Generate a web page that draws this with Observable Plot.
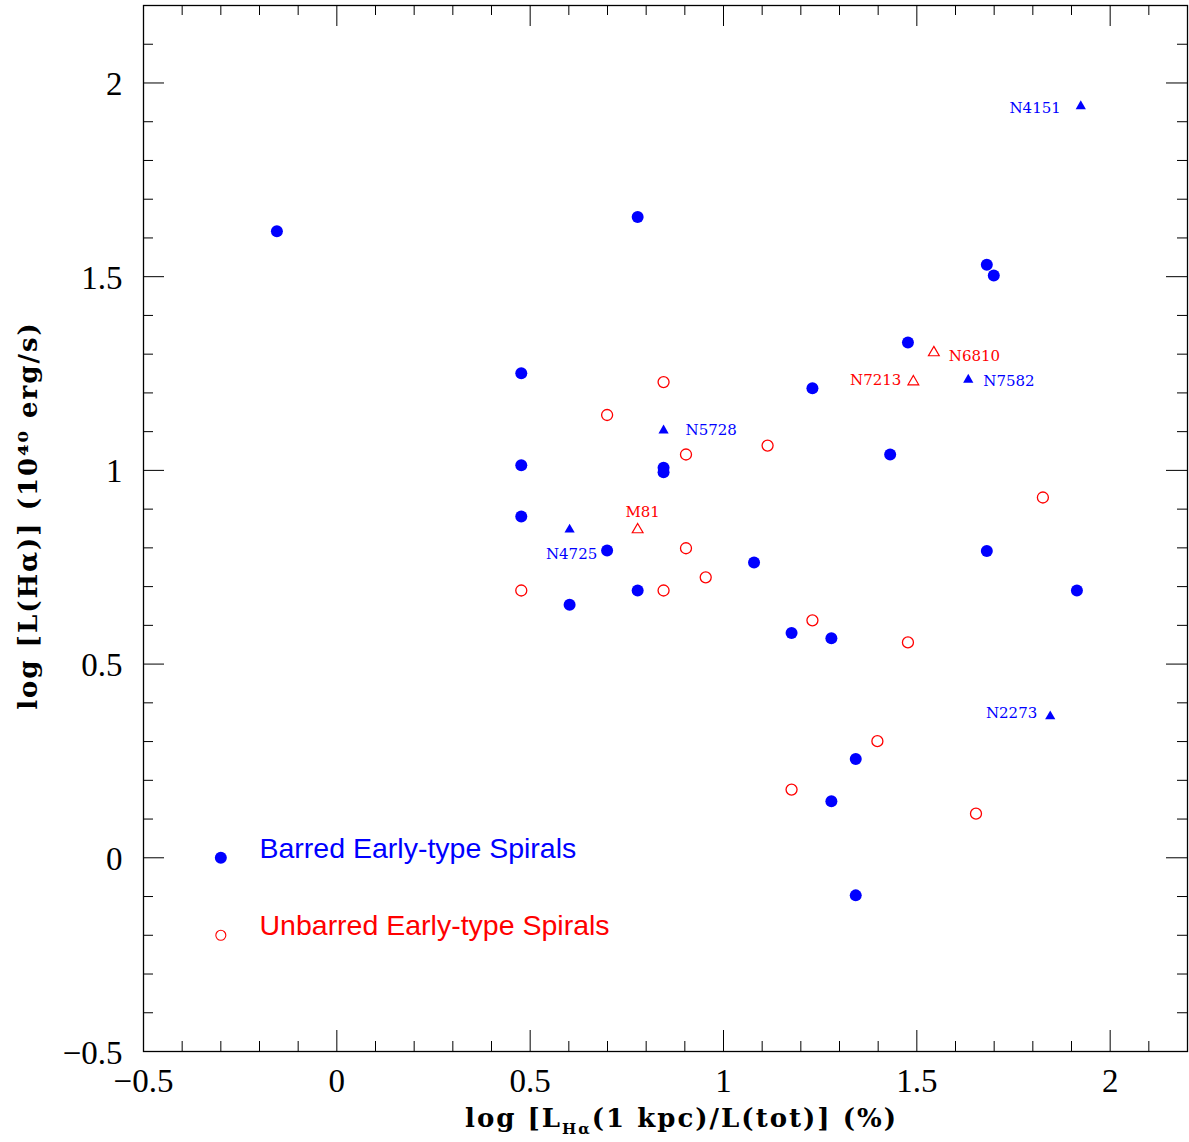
<!DOCTYPE html>
<html>
<head>
<meta charset="utf-8">
<script src="https://cdn.jsdelivr.net/npm/d3@7"></script>
<script src="https://cdn.jsdelivr.net/npm/@observablehq/plot@0.6"></script>
<style>
  body { margin: 0; background: #fff; }
  #chart svg { display: block; }
</style>
</head>
<body>
<div id="chart"></div>
<script>
// ---------- data ----------
const barredX = [-0.155, 0.778, 1.681, 1.699, 1.477, 0.477, 1.230, 0.477, 0.845, 0.845, 1.431, 0.477, 0.699, 1.681, 0.602, 0.778, 1.079, 1.176, 1.279, 1.914, 1.342, 1.279, 1.342];
const barredY = [1.617, 1.654, 1.531, 1.503, 1.330, 1.251, 1.212, 1.013, 1.007, 0.995, 1.041, 0.881, 0.793, 0.792, 0.653, 0.690, 0.762, 0.580, 0.567, 0.690, 0.255, 0.146, -0.097];

const unbarredX = [0.477, 0.699, 0.845, 0.903, 1.114, 0.903, 0.845, 0.954, 1.230, 1.477, 1.826, 1.398, 1.176, 1.653];
const unbarredY = [0.690, 1.143, 1.228, 1.041, 1.064, 0.799, 0.690, 0.724, 0.613, 0.556, 0.930, 0.301, 0.176, 0.114];

const agnNames  = ["N4151", "N7582", "N5728", "N4725", "N2273", "N6810", "N7213", "M81"];
const agnX      = [1.924, 1.633, 0.845, 0.602, 1.845, 1.544, 1.491, 0.778];
const agnY      = [1.940, 1.234, 1.103, 0.847, 0.365, 1.304, 1.229, 0.847];
const agnBarred = [true, true, true, true, true, false, false, false];

const legendLabels = ["Barred Early-type Spirals", "Unbarred Early-type Spirals"];

const xMajorTicks = [-0.5, 0, 0.5, 1, 1.5, 2];
const yMajorTicks = [-0.5, 0, 0.5, 1, 1.5, 2];
const xTitle = "log [LHα(1 kpc)/L(tot)] (%)";
const yTitle = "log [L(Hα)] (10⁴⁰ erg/s)";

// ---------- layout / style ----------
const W = 1189, H = 1142;
const mL = 143, mR = 2, mT = 5, mB = 91;
const innerW = W - mL - mR, innerH = H - mT - mB;
const BLUE = "#0000ff", RED = "#ff0000";

const minor = d3.range(-4, 22).filter(i => i % 5 !== 0).map(i => i / 10);
const fmt = d3.format("~g");

const barred = barredX.map((x, i) => ({x, y: barredY[i]}));
const unbarred = unbarredX.map((x, i) => ({x, y: unbarredY[i]}));
const agn = agnNames.map((name, i) => ({name, x: agnX[i], y: agnY[i], barred: agnBarred[i]}));

// label placement relative to its triangle (pixels)
const labelPlacement = {
  N4151: {anchor: "end",    dx: -20, dy: 2},
  N7582: {anchor: "start",  dx: 15,  dy: 1},
  N5728: {anchor: "start",  dx: 22,  dy: 0},
  N4725: {anchor: "middle", dx: 2,   dy: 25},
  N2273: {anchor: "end",    dx: -13, dy: -3},
  N6810: {anchor: "start",  dx: 15,  dy: 4},
  N7213: {anchor: "end",    dx: -12, dy: -1},
  M81:   {anchor: "middle", dx: 5,   dy: -17}
};

const tickFont = "Liberation Serif, Times New Roman, serif";
const titleFont = "DejaVu Serif, serif";
const labelFont = "DejaVu Serif, serif";

const plot = Plot.plot({
  width: W, height: H,
  marginLeft: mL, marginRight: mR, marginTop: mT, marginBottom: mB,
  x: {domain: [-0.5, 2.2]},
  y: {domain: [-0.5, 2.2]},
  style: {background: "#fff", color: "#000"},
  marks: [
    Plot.frame({stroke: "#000", strokeWidth: 1.3}),
    // major ticks (inward, all sides)
    Plot.tickX(xMajorTicks, {x: d => d, insetTop: innerH - 21, stroke: "#000"}),
    Plot.tickX(xMajorTicks, {x: d => d, insetBottom: innerH - 21, stroke: "#000"}),
    Plot.tickY(yMajorTicks, {y: d => d, insetRight: innerW - 21, stroke: "#000"}),
    Plot.tickY(yMajorTicks, {y: d => d, insetLeft: innerW - 21, stroke: "#000"}),
    // minor ticks
    Plot.tickX(minor, {x: d => d, insetTop: innerH - 10, stroke: "#000"}),
    Plot.tickX(minor, {x: d => d, insetBottom: innerH - 10, stroke: "#000"}),
    Plot.tickY(minor, {y: d => d, insetRight: innerW - 10, stroke: "#000"}),
    Plot.tickY(minor, {y: d => d, insetLeft: innerW - 10, stroke: "#000"}),
    // tick labels
    Plot.axisX(xMajorTicks, {tickSize: 0, tickPadding: 17, label: null, tickFormat: fmt, fontSize: 33, fontFamily: tickFont}),
    Plot.axisY(yMajorTicks, {tickSize: 0, tickPadding: 21, label: null, tickFormat: fmt, fontSize: 33, fontFamily: tickFont, dy: 1.5}),
    // axis titles
    Plot.text([xTitle], {text: d => d, frameAnchor: "bottom", textAnchor: "middle", lineAnchor: "middle", dx: 16, dy: 67,
      fontSize: 26, fontWeight: "bold", fontFamily: titleFont, fill: "#000"}),
    Plot.text([yTitle], {text: d => d, frameAnchor: "left", textAnchor: "middle", lineAnchor: "middle", rotate: -90, dx: -115, dy: -13,
      fontSize: 26, fontWeight: "bold", fontFamily: titleFont, fill: "#000"}),
    // data
    Plot.dot(unbarred, {x: "x", y: "y", r: 5.5, stroke: RED, strokeWidth: 1.3, fill: "none"}),
    Plot.dot(barred, {x: "x", y: "y", r: 6, fill: BLUE, stroke: "none"}),
    Plot.dot(agn.filter(d => d.barred), {x: "x", y: "y", symbol: "triangle", r: 3.8, fill: BLUE, stroke: "none"}),
    Plot.dot(agn.filter(d => !d.barred), {x: "x", y: "y", symbol: "triangle", r: 4, fill: "none", stroke: RED, strokeWidth: 1.2}),
    ...agn.map(d => {
      const p = labelPlacement[d.name];
      return Plot.text([d], {x: "x", y: "y", text: "name", textAnchor: p.anchor, dx: p.dx, dy: p.dy,
        fontSize: 15, fontFamily: labelFont, fill: d.barred ? BLUE : RED});
    }),
    // legend (drawn inside the frame, as in the original)
    Plot.dot([legendLabels[0]], {x: () => -0.3, y: () => 0, r: 6, fill: BLUE, stroke: "none"}),
    Plot.dot([legendLabels[1]], {x: () => -0.3, y: () => -0.2, r: 5, fill: "none", stroke: RED, strokeWidth: 1.1}),
    Plot.text(legendLabels, {x: () => -0.2, y: (d, i) => -0.2 * i, text: d => d, textAnchor: "start", dy: -9,
      fontSize: 28.5, fontFamily: "Liberation Sans, Arial, Helvetica, sans-serif",
      fill: (d, i) => i === 0 ? BLUE : RED})
  ]
});

document.getElementById("chart").appendChild(plot);

const svg = d3.select(plot);
// letter spacing for titles, subscript for x title
svg.selectAll("text").each(function() {
  const t = this.textContent;
  const sel = d3.select(this);
  if (t === yTitle) sel.attr("letter-spacing", 2);
  if (t === xTitle) {
    sel.attr("letter-spacing", 2);
    sel.text(null);
    sel.append("tspan").text("log [L");
    sel.append("tspan").attr("font-size", 15).attr("dy", 7).text("Hα");
    sel.append("tspan").attr("dy", -7).text("(1 kpc)/L(tot)] (%)");
  }
});
</script>
</body>
</html>
